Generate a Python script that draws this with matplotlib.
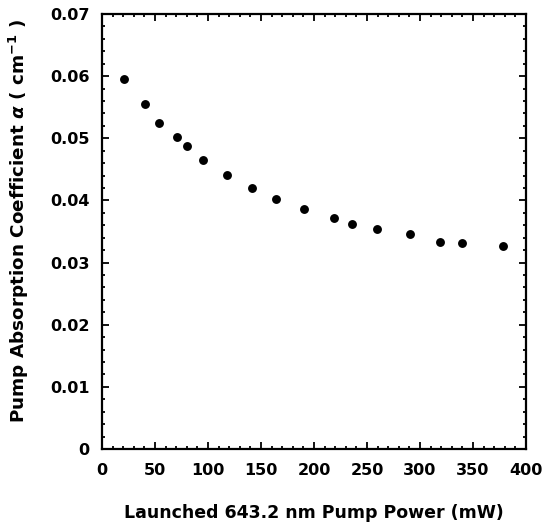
import matplotlib
matplotlib.use("Agg")
import matplotlib.pyplot as plt
from matplotlib.ticker import MultipleLocator, FuncFormatter

power_mw = [21.2, 40.2, 53.9, 70.5, 80.3, 95.0, 117.9, 141.7, 164.2, 190.4,
            219.1, 235.8, 259.9, 290.6, 318.4, 339.9, 378.4]
alpha = [0.0595, 0.0555, 0.0525, 0.0502, 0.0488, 0.0465, 0.0441, 0.0420, 0.0403,
         0.0386, 0.0371, 0.0362, 0.0354, 0.0346, 0.0333, 0.0331, 0.0327]

x_ticks = [0, 50, 100, 150, 200, 250, 300, 350, 400]
y_ticks = [0, 0.01, 0.02, 0.03, 0.04, 0.05, 0.06, 0.07]

plt.rcParams['font.family'] = ['DejaVu Sans']
plt.rcParams['font.weight'] = 'bold'
plt.rcParams['mathtext.fontset'] = 'custom'
plt.rcParams['mathtext.rm'] = 'DejaVu Sans:bold'
plt.rcParams['mathtext.it'] = 'DejaVu Sans:bold:italic'
plt.rcParams['mathtext.bf'] = 'DejaVu Sans:bold'

fig = plt.figure(figsize=(5.42, 5.27), dpi=100)
ax = fig.add_axes([102/542, 1 - 449/527, (526-102)/542, (449-14)/527])

ax.plot(power_mw, alpha, 'o', color='black', markersize=6.4, markeredgewidth=0)

ax.set_xlim(0, 400)
ax.set_ylim(0, 0.07)
ax.set_xticks(x_ticks)
ax.set_yticks(y_ticks)
ax.xaxis.set_minor_locator(MultipleLocator(10))
ax.yaxis.set_minor_locator(MultipleLocator(0.002))

def yfmt(v, pos):
    if abs(v) < 1e-12:
        return "0"
    return ("%.2f" % v)
ax.yaxis.set_major_formatter(FuncFormatter(yfmt))

for s in ax.spines.values():
    s.set_linewidth(1.6)

ax.tick_params(which='both', direction='in', top=True, right=True, width=1.3)
ax.tick_params(which='major', length=5, labelsize=11.5)
ax.tick_params(axis='x', which='major', pad=10)
ax.tick_params(axis='y', which='major', pad=9)
ax.tick_params(which='minor', length=2.5)
for lab in ax.get_xticklabels() + ax.get_yticklabels():
    lab.set_fontweight('bold')

ax.set_xlabel("Launched 643.2 nm Pump Power (mW)", fontsize=12.5, fontweight='bold', labelpad=19)
ax.set_ylabel(r"Pump Absorption Coefficient $\alpha$ ( cm$^{-1}$ )", fontsize=13.2,
              fontweight='bold')
ax.yaxis.set_label_coords(-0.168, 0.524)

fig.savefig("out.png", dpi=100)
